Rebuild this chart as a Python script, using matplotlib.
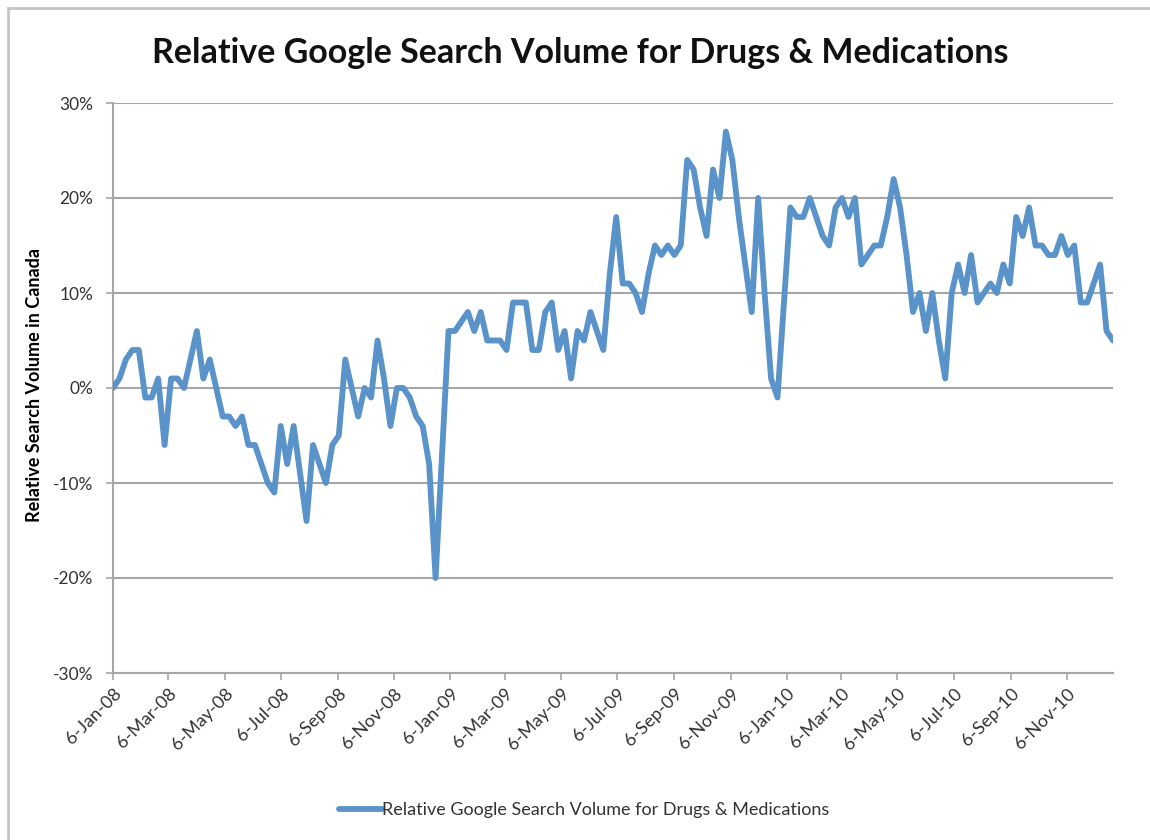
import pandas as pd
import matplotlib.pyplot as plt
import matplotlib.dates as mdates
from matplotlib.patches import Rectangle
from matplotlib.ticker import FuncFormatter

# weekly series, starting 6-Jan-08 (percent)
start_date = '2008-01-06'
search_volume = [
    0, 1, 3, 4, 4, -1, -1, 1, -6, 1,
    1, 0, 3, 6, 1, 3, 0, -3, -3, -4,
    -3, -6, -6, -8, -10, -11, -4, -8, -4, -9,
    -14, -6, -8, -10, -6, -5, 3, 0, -3, 0,
    -1, 5, 1, -4, 0, 0, -1, -3, -4, -8,
    -20, -7, 6, 6, 7, 8, 6, 8, 5, 5,
    5, 4, 9, 9, 9, 4, 4, 8, 9, 4,
    6, 1, 6, 5, 8, 6, 4, 12, 18, 11,
    11, 10, 8, 12, 15, 14, 15, 14, 15, 24,
    23, 19, 16, 23, 20, 27, 24, 18, 13, 8,
    20, 10, 1, -1, 9, 19, 18, 18, 20, 18,
    16, 15, 19, 20, 18, 20, 13, 14, 15, 15,
    18, 22, 19, 14, 8, 10, 6, 10, 5, 1,
    10, 13, 10, 14, 9, 10, 11, 10, 13, 11,
    18, 16, 19, 15, 15, 14, 14, 16, 14, 15,
    9, 9, 11, 13, 6, 5,
]
series_name = 'Relative Google Search Volume for Drugs & Medications'
y_ticks = [-30, -20, -10, 0, 10, 20, 30]

dates = pd.date_range(start_date, periods=len(search_volume), freq='7D')
# tick every second month on the 6th
tick_dates = pd.date_range('2008-01-01', '2010-11-01', freq='2MS') + pd.Timedelta(days=5)

plt.rcParams['font.family'] = ['Lato', 'DejaVu Sans']

fig = plt.figure(figsize=(11.5, 8.4), dpi=100)
ax = fig.add_axes([113 / 1150, 1 - 673 / 840, 1000 / 1150, 570 / 840])

line_blue = '#5A93C9'
grid_grey = '#a6a6a6'

ax.plot(dates, search_volume, color=line_blue, lw=4.2, solid_joinstyle='round',
        solid_capstyle='round', label=series_name, zorder=3)

ax.set_ylim(-30, 30)
ax.set_yticks(y_ticks)
ax.yaxis.set_major_formatter(FuncFormatter(lambda v, p: f'{v:.0f}%'))
ax.set_xlim(dates[0], dates[-1])
ax.set_xticks(tick_dates)
ax.xaxis.set_major_formatter(FuncFormatter(
    lambda v, p: (lambda d: f'{d.day}-{d.strftime("%b-%y")}')(mdates.num2date(v))))

ax.grid(axis='y', color=grid_grey, lw=1.5)
ax.set_axisbelow(True)
for side in ['top', 'right']:
    ax.spines[side].set_visible(False)
for side in ['left', 'bottom']:
    ax.spines[side].set_color(grid_grey)
    ax.spines[side].set_linewidth(1.5)

ax.tick_params(axis='y', length=5, width=1.2, color=grid_grey, labelsize=12.5,
               labelcolor='#333333', pad=9)
ax.tick_params(axis='x', length=5, width=1.2, color=grid_grey, labelsize=13,
               labelcolor='#333333', pad=4)
plt.setp(ax.get_xticklabels(), rotation=45, ha='right', rotation_mode='anchor')

ax.set_ylabel('Relative Search Volume in Canada', fontsize=13, fontweight='bold')
ax.yaxis.set_label_coords(-0.07, 0.505)

fig.text(0.505, 1 - 53 / 840, 'Relative Google Search Volume for Drugs & Medications',
         ha='center', va='center', fontsize=24.5, fontweight='bold', color='#111111')

leg = fig.legend(loc='center', bbox_to_anchor=(0.508, 1 - 810 / 840), frameon=False,
                 fontsize=13, handlelength=2.4, handletextpad=0.0)
for t in leg.get_texts():
    t.set_color('#333333')

# chart frame
fig.patches.append(Rectangle((8 / 1150, -0.05), 1.1, 1 - 8 / 840 + 0.05,
                             transform=fig.transFigure, fill=False,
                             edgecolor='#c4c4c4', lw=2, zorder=0))

plt.savefig('out.png', dpi=100)
